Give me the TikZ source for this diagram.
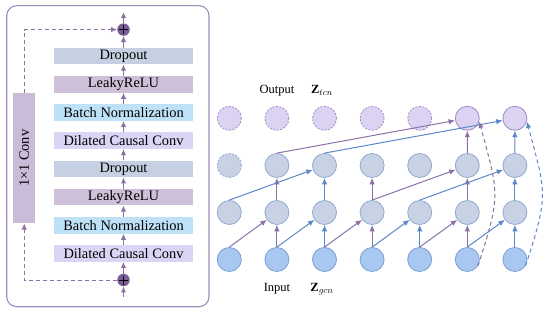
\documentclass[tikz,border=0pt]{standalone}
\usepackage{fontspec}
\setmainfont{Liberation Serif}
\usepackage{xcolor}
\usepackage{tikz}
\usetikzlibrary{arrows.meta,positioning,calc}
\definecolor{framepurple}{HTML}{9D8DBD}
\definecolor{linepurple}{HTML}{8C70A6}
\definecolor{lineblue}{HTML}{5C88C8}
\definecolor{dropfill}{HTML}{C5D1E3}
\definecolor{relufill}{HTML}{CEC0D9}
\definecolor{normfill}{HTML}{BFE1F8}
\definecolor{dccfill}{HTML}{DBD5F5}
\definecolor{convfill}{HTML}{CABBD9}
\definecolor{plusfill}{HTML}{7A5C9A}
\definecolor{infill}{HTML}{A8C8F2}
\definecolor{instroke}{HTML}{7B9FD4}
\definecolor{hidfill}{HTML}{C7D3E5}
\definecolor{hidstroke}{HTML}{92A9CF}
\definecolor{outfill}{HTML}{DCD3F3}
\definecolor{outstroke}{HTML}{9E8AC0}
\tikzset{
  layer/.style={rectangle,minimum width=139pt,minimum height=16.7pt,inner sep=0pt,align=center,font=\fontsize{14.4}{16}\selectfont},
  dropbox/.style={layer,fill=dropfill},
  relubox/.style={layer,fill=relufill},
  normbox/.style={layer,fill=normfill},
  dccbox/.style={layer,fill=dccfill},
  onebyone/.style={rectangle,fill=convfill,minimum width=130pt,minimum height=21.7pt,inner sep=0pt,rotate=90,font=\fontsize{14.4}{16}\selectfont},
  addnode/.style={circle,fill=plusfill,minimum size=12.5pt,inner sep=0pt,
    path picture={\draw[black,line width=0.8pt] ([xshift=-4.5pt]path picture bounding box.center) -- ([xshift=4.5pt]path picture bounding box.center)
      ([yshift=-4.5pt]path picture bounding box.center) -- ([yshift=4.5pt]path picture bounding box.center);}},
  frame/.style={draw=framepurple,line width=1.1pt,rounded corners=10pt},
  flowarrow/.style={-{Latex[length=6pt,width=5.5pt]},line width=1pt,draw=linepurple},
  skipline/.style={flowarrow,dash pattern=on 4pt off 3pt},
  innode/.style={circle,minimum size=24pt,inner sep=0pt,fill=infill,draw=instroke,line width=0.8pt},
  hidnode/.style={circle,minimum size=24pt,inner sep=0pt,fill=hidfill,draw=hidstroke,line width=0.8pt},
  hidghost/.style={hidnode,dash pattern=on 2pt off 1.5pt},
  outnode/.style={circle,minimum size=24pt,inner sep=0pt,fill=outfill,draw=outstroke,line width=0.8pt},
  outghost/.style={outnode,dash pattern=on 2pt off 1.5pt},
  parrow/.style={-{Latex[length=6.5pt,width=5.5pt]},line width=1pt,draw=linepurple},
  barrow/.style={-{Latex[length=6.5pt,width=5.5pt]},line width=1pt,draw=lineblue},
  pdash/.style={parrow,dash pattern=on 4pt off 3pt},
  bdash/.style={barrow,dash pattern=on 4pt off 3pt},
  lbl/.style={font=\fontsize{12.5}{14}\selectfont,inner sep=0pt}
}

\begin{document}
\begin{tikzpicture}[x=1pt,y=1pt]
  \useasboundingbox (0,0) rectangle (550,314);
  % residual block
  \draw[frame] (6.7,7.3) rectangle (209,308.3);
  \coordinate (blockin) at (123.5,17.3);
  \node[addnode] (addin) at (123.5,34) {};
  \node[dccbox, above=11.5pt of addin] (dcc1) {Dilated Causal Conv};
  \node[normbox, above=11.1pt of dcc1] (bn1) {Batch Normalization};
  \node[relubox, above=11.1pt of bn1] (relu1) {LeakyReLU};
  \node[dropbox, above=11.1pt of relu1] (drop1) {Dropout};
  \node[dccbox, above=11.1pt of drop1] (dcc2) {Dilated Causal Conv};
  \node[normbox, above=11.1pt of dcc2] (bn2) {Batch Normalization};
  \node[relubox, above=11.1pt of bn2] (relu2) {LeakyReLU};
  \node[dropbox, above=11.1pt of relu2] (drop2) {Dropout};
  \node[addnode, above=11.5pt of drop2] (addout) {};
  \coordinate[above=11pt of addout] (blockout);
  \node[onebyone] (res) at (24.2,155.7) {1×1 Conv};
  \draw[flowarrow] (blockin) -- (addin);
  \draw[flowarrow] (addin) -- (dcc1);
  \draw[flowarrow] (dcc1) -- (bn1);
  \draw[flowarrow] (bn1) -- (relu1);
  \draw[flowarrow] (relu1) -- (drop1);
  \draw[flowarrow] (drop1) -- (dcc2);
  \draw[flowarrow] (dcc2) -- (bn2);
  \draw[flowarrow] (bn2) -- (relu2);
  \draw[flowarrow] (relu2) -- (drop2);
  \draw[flowarrow] (drop2) -- (addout);
  \draw[flowarrow] (addout) -- (blockout);
  \draw[skipline] (addin.west) -| (res.west);
  \draw[skipline] (res.east) |- (addout.west);

  % dilated causal convolution
  \foreach \c in {1,...,7} {
    \node[innode] (in\c) at ({229.3+47.6*(\c-1)},54.5) {};
    \node[hidnode] (ha\c) at ({229.3+47.6*(\c-1)},101.5) {};
  }
  \node[hidghost] (hb1) at (229.3,148.5) {};
  \foreach \c in {2,...,7}
    \node[hidnode] (hb\c) at ({229.3+47.6*(\c-1)},148.5) {};
  \foreach \c in {1,...,5}
    \node[outghost] (out\c) at ({229.3+47.6*(\c-1)},195.7) {};
  \node[outnode] (out6) at (467.3,195.7) {};
  \node[outnode] (out7) at (514.9,195.7) {};
  \node[lbl] (outlbl) at (277,223.3) {Output};
  \node[lbl] (ztcn) at (322,223.3) {$\mathbf{Z}_{tcn}$};
  \node[lbl] (inlbl) at (277,25) {Input};
  \node[lbl] (zgcn) at (322,25) {$\mathbf{Z}_{gcn}$};

  % dilation 1
  \foreach \s/\t in {1/2,2/2,3/4,4/4,5/6,6/6}
    \draw[parrow] (in\s.north) -- (ha\t);
  \foreach \s/\t in {2/3,3/3,4/5,5/5,6/7,7/7}
    \draw[barrow] (in\s.north) -- (ha\t);
  % dilation 2
  \foreach \s/\t in {2/2,4/4,4/6,6/6}
    \draw[parrow] (ha\s.north) -- (hb\t);
  \foreach \s/\t in {1/3,3/3,5/7,7/7}
    \draw[barrow] (ha\s.north) -- (hb\t);
  % dilation 4
  \draw[parrow] (hb2.north) -- (out6);
  \draw[parrow] (hb6.north) -- (out6);
  \draw[barrow] (hb3.north) -- (out7);
  \draw[barrow] (hb7.north) -- (out7);
  % residual links
  \draw[pdash] (in6.-30) to[out=72,in=-75,looseness=1.33] (out6.-15);
  \draw[bdash] (in7.-30) to[out=72,in=-75,looseness=1.33] (out7.-15);
\end{tikzpicture}
\end{document}
